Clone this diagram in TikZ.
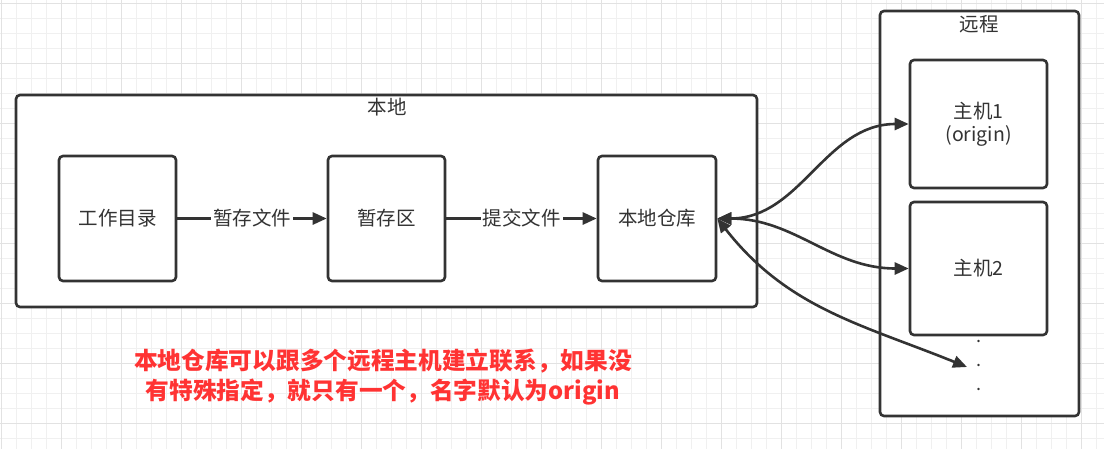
\documentclass[tikz,border=0pt]{standalone}
\usepackage{fontspec}
\setmainfont{Noto Sans CJK SC}
\usetikzlibrary{arrows.meta}
\definecolor{ink}{HTML}{333333}
\definecolor{note}{HTML}{FF3333}
\definecolor{gridmin}{HTML}{F0F0F0}
\definecolor{gridmaj}{HTML}{E2E2E2}
\tikzset{
  box/.style={draw=ink, line width=2.6pt, rounded corners=4pt, fill=white, inner sep=0pt},
  link/.style={draw=ink, line width=2.6pt, -{Triangle[length=14pt,width=12pt]}},
  twoway/.style={link, {Triangle[length=14pt,width=12pt]}-{Triangle[length=14pt,width=12pt]}},
  lbl/.style={text=ink, font=\fontsize{19.5}{23}\selectfont},
}
\begin{document}
\begin{tikzpicture}[x=1pt,y=-1pt]
\useasboundingbox (0,0) rectangle (1104,448);
% background grid
\begin{scope}[shift={(1.7,3.3)}]
\draw[gridmin, line width=1pt, step=15pt] (-15,-15) grid (1110,450);
\draw[gridmaj, line width=1pt, step=60pt] (-60,-60) grid (1110,450);
\end{scope}
% local side
\node[box, minimum width=741pt, minimum height=212pt] (local) at (386.5,201) {};
\node[lbl] (localname) at (387,107) {本地};
\node[box, lbl, minimum width=117pt, minimum height=125pt] (work) at (117.5,218.5) {工作目录};
\node[box, lbl, minimum width=117pt, minimum height=125pt] (stage) at (386.5,218.5) {暂存区};
\node[box, lbl, minimum width=118pt, minimum height=125pt] (repo) at (657,218.5) {本地仓库};
% remote side
\node[box, minimum width=199pt, minimum height=405pt] (remote) at (979.5,213.5) {};
\node[lbl] (remotename) at (979,24) {远程};
\node[box, lbl, align=center, minimum width=137pt, minimum height=128pt] (host1) at (978.5,124) {主机1\\[0pt](origin)};
\node[box, lbl, minimum width=137pt, minimum height=133pt] (host2) at (978.5,268.5) {主机2};
\node[lbl, align=center, font=\fontsize{18}{24}\selectfont] (more) at (979,365) {.\\.\\.};
\coordinate (moreend) at (967,367);
% connectors
\draw[link] (work) -- node[fill=white, inner sep=2pt, lbl] {暂存文件} (stage);
\draw[link] (stage) -- node[fill=white, inner sep=2pt, lbl] {提交文件} (repo);
\draw[twoway] (repo.east) to[out=0, in=180] (host1.west);
\draw[twoway] (repo.east) to[out=0, in=180] (host2.west);
\draw[twoway] (repo.east) to[out=-52, in=158] (moreend);
% note
\node[text=note, align=center, font=\fontsize{23.7}{30}\selectfont\bfseries] (remark) at (383,377)
  {本地仓库可以跟多个远程主机建立联系，如果没\\有特殊指定，就只有一个，名字默认为origin};
\end{tikzpicture}
\end{document}
